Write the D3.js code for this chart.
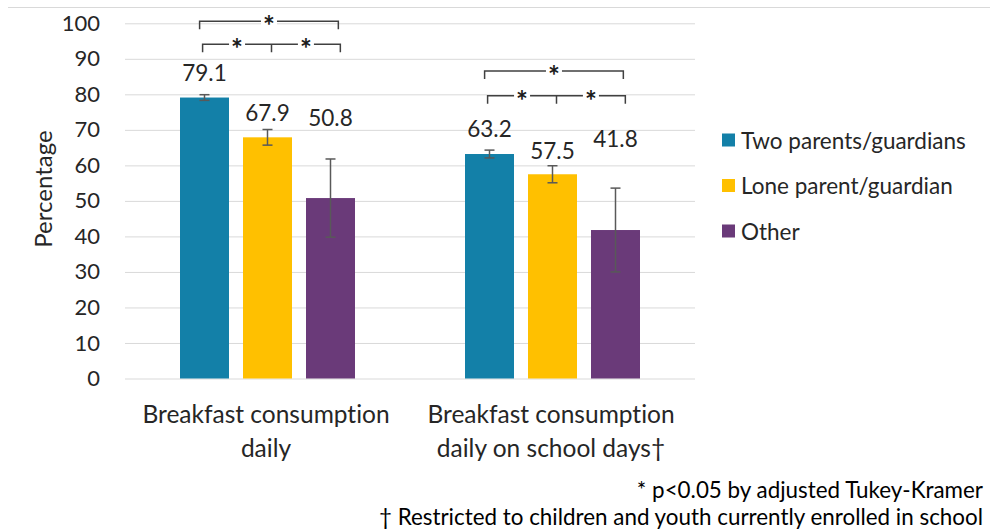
<!DOCTYPE html>
<html><head><meta charset="utf-8">
<script src="https://cdn.jsdelivr.net/npm/d3@7"></script>
<style>body{margin:0;background:#fff;} svg{display:block;font-family:Lato,'Open Sans',sans-serif;font-variant-ligatures:none;font-feature-settings:"liga" 0;}</style>
</head><body><svg id="c" width="990" height="531"></svg>
<script>
// ---- data ----
const categories = ["Breakfast consumption daily", "Breakfast consumption daily on school days†"];
const categoryLines = [["Breakfast consumption", "daily"], ["Breakfast consumption", "daily on school days†"]];
const seriesNames = ["Two parents/guardians", "Lone parent/guardian", "Other"];
const twoParents = [79.1, 63.2];
const loneParent = [67.9, 57.5];
const other = [50.8, 41.8];
const twoParentsErr = [0.8, 1.1];
const loneParentErr = [2.2, 2.4];
const otherErr = [11.0, 11.8];
const yTicks = [0, 10, 20, 30, 40, 50, 60, 70, 80, 90, 100];
const yTitle = "Percentage";
const footnotes = ["* p<0.05 by adjusted Tukey-Kramer", "† Restricted to children and youth currently enrolled in school"];
// label heights (value units) as placed in the original
const labelTwo = [86.2, 70.5];
const labelLone = [75.0, 64.3];
const labelOther = [73.6, 67.7];
// significance bracket levels (value units): outer, inner
const bracketOuter = [100.6, 86.6];
const bracketInner = [94.1, 79.6];

const colors = ["#1380a8", "#ffc000", "#6a3a79"];
const values = [twoParents, loneParent, other];
const errs = [twoParentsErr, loneParentErr, otherErr];
const labelYs = [labelTwo, labelLone, labelOther];

const svg = d3.select("#c");
const plotL = 125, plotR = 695;
const x0 = d3.scaleBand().domain(categories).range([plotL, plotR]);
const x1 = d3.scaleBand().domain(seriesNames).range([0, x0.bandwidth()])
  .paddingInner(14 / 63).paddingOuter(0.873);
const y = d3.scaleLinear().domain([0, 100]).range([378.5, 23.3]);

// top border line
svg.append("line").attr("x1", 8).attr("x2", 990).attr("y1", 7.5).attr("y2", 7.5)
  .attr("stroke", "#d9d9d9").attr("stroke-width", 1);

// gridlines
const grid = svg.append("g").attr("transform", `translate(${plotL},0)`)
  .call(d3.axisLeft(y).tickValues(yTicks).tickSize(-(plotR - plotL)).tickFormat(""));
grid.select(".domain").remove();
grid.selectAll("line").attr("stroke", "#d9d9d9").attr("stroke-width", 1);

// y tick labels
const ya = svg.append("g").attr("transform", `translate(${plotL},0)`)
  .call(d3.axisLeft(y).tickValues(yTicks).tickSize(0).tickPadding(25));
ya.select(".domain").remove();
ya.selectAll("text").attr("font-family", "Lato,'Open Sans',sans-serif").attr("font-size", 22).attr("fill", "#262626");

// y title
svg.append("text").attr("transform", "translate(42,189) rotate(-90)")
  .attr("text-anchor", "middle").attr("dominant-baseline", "central")
  .attr("font-size", 24).attr("fill", "#262626").text(yTitle);

// bars
seriesNames.forEach((s, si) => {
  const g = svg.append("g");
  categories.forEach((c, ci) => {
    const v = values[si][ci];
    const bx = x0(c) + x1(s);
    g.append("rect").attr("x", bx).attr("y", y(v)).attr("width", x1.bandwidth())
      .attr("height", y(0) - y(v)).attr("fill", colors[si]);
    // error bar
    const cx = bx + x1.bandwidth() / 2;
    const e = errs[si][ci];
    const eg = g.append("g").attr("stroke", "#595959").attr("stroke-width", 1.5);
    eg.append("line").attr("x1", cx).attr("x2", cx).attr("y1", y(v + e)).attr("y2", y(v - e));
    eg.append("line").attr("x1", cx - 5).attr("x2", cx + 5).attr("y1", y(v + e)).attr("y2", y(v + e));
    eg.append("line").attr("x1", cx - 5).attr("x2", cx + 5).attr("y1", y(v - e)).attr("y2", y(v - e));
    // value label
    g.append("text").attr("x", cx).attr("y", y(labelYs[si][ci]))
      .attr("text-anchor", "middle").attr("dominant-baseline", "central")
      .attr("font-size", 22.5).attr("fill", "#262626").text(v.toFixed(1));
  });
});

// significance brackets
function star(g, sx, sy) {
  g.append("rect").attr("x", sx - 8).attr("y", sy - 5).attr("width", 16).attr("height", 10).attr("fill", "#fff");
  g.append("text").attr("x", sx).attr("y", sy + 15).attr("text-anchor", "middle")
    .attr("font-size", 28).attr("font-weight", "bold").attr("fill", "#1a1a1a").text("*");
}
categories.forEach((c, ci) => {
  const bw = x1.bandwidth();
  const left = x0(c) + x1(seriesNames[0]) + bw * 0.4;
  const right = x0(c) + x1(seriesNames[2]) + bw * 0.66;
  const mid = x0(c) + x1(seriesNames[1]) + bw / 2 + 4;
  const g = svg.append("g");
  const yo = y(bracketOuter[ci]), yi = y(bracketInner[ci]);
  const path = d3.path();
  path.moveTo(left, yo + 8); path.lineTo(left, yo); path.lineTo(right, yo); path.lineTo(right, yo + 8);
  path.moveTo(left + 3, yi + 8); path.lineTo(left + 3, yi); path.lineTo(right + 2, yi); path.lineTo(right + 2, yi + 8);
  path.moveTo(mid, yi); path.lineTo(mid, yi + 8);
  g.append("path").attr("d", path.toString()).attr("fill", "none").attr("stroke", "#404040").attr("stroke-width", 1.5);
  star(g, (left + right) / 2, yo);
  star(g, (left + 3 + mid) / 2, yi);
  star(g, (mid + right + 2) / 2, yi);
});

// category labels
categories.forEach((c, ci) => {
  categoryLines[ci].forEach((ln, li) => {
    svg.append("text").attr("x", x0(c) + x0.bandwidth() / 2 - 1.5).attr("y", 413 + li * 34)
      .attr("text-anchor", "middle").attr("dominant-baseline", "central")
      .attr("font-size", 24.5).attr("fill", "#262626").text(ln);
  });
});

// legend
const leg = svg.append("g");
seriesNames.forEach((s, i) => {
  const ly = 140 + i * 45.5;
  leg.append("rect").attr("x", 722).attr("y", ly - 6.5).attr("width", 13).attr("height", 13).attr("fill", colors[i]);
  leg.append("text").attr("x", 741).attr("y", ly).attr("dominant-baseline", "central")
    .attr("font-size", 22.5).attr("fill", "#262626").text(s);
});

// footnotes
footnotes.forEach((f, i) => {
  svg.append("text").attr("x", 983).attr("y", 489 + i * 27).attr("text-anchor", "end")
    .attr("dominant-baseline", "central").attr("font-size", 22.4).attr("fill", "#000").text(f);
});
</script></body></html>
